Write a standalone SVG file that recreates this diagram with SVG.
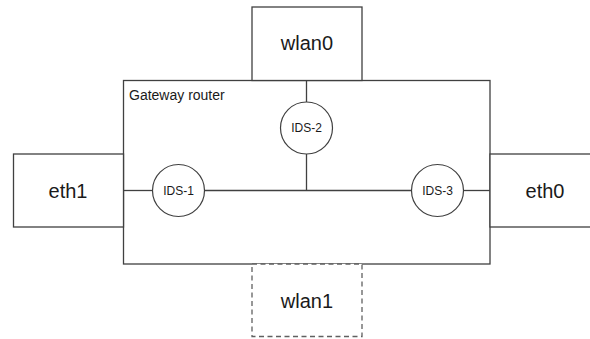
<svg xmlns="http://www.w3.org/2000/svg" width="590" height="339" viewBox="0 0 590 339">
  <style>
    .box { fill: #ffffff; stroke: #404040; stroke-width: 1.3; }
    .dashed { stroke-dasharray: 5 3.5; stroke: #606060; }
    .ids { fill: #ffffff; stroke: #404040; stroke-width: 1.2; }
    .conn { stroke: #404040; stroke-width: 1.3; fill: none; }
    .big { font-family: "Liberation Sans", Arial, sans-serif; font-size: 20px; fill: #1a1a1a; text-anchor: middle; }
    .small { font-family: "Liberation Sans", Arial, sans-serif; font-size: 12px; fill: #1a1a1a; text-anchor: middle; }
    .label { font-family: "Liberation Sans", Arial, sans-serif; font-size: 14px; fill: #1a1a1a; }
  </style>
  <rect width="590" height="339" fill="#ffffff"/>
  <g id="router">
    <rect class="box" x="123.5" y="80.5" width="366.5" height="183.5"/>
    <text class="label" x="129" y="100">Gateway router</text>
  </g>
  <g id="wlan0">
    <rect class="box" x="252" y="7" width="110" height="73.5"/>
    <text class="big" x="307" y="50">wlan0</text>
  </g>
  <g id="eth1">
    <rect class="box" x="13.5" y="154" width="110" height="73"/>
    <text class="big" x="68" y="198">eth1</text>
  </g>
  <g id="eth0">
    <rect class="box" x="490" y="154" width="110" height="73"/>
    <text class="big" x="545" y="198">eth0</text>
  </g>
  <g id="wlan1">
    <rect class="box dashed" x="252" y="264" width="110" height="72.5"/>
    <text class="big" x="307" y="308">wlan1</text>
  </g>
  <g id="connectors">
    <line class="conn" x1="123.5" y1="190.5" x2="152.5" y2="190.5"/>
    <line class="conn" x1="204.5" y1="190.5" x2="411.5" y2="190.5"/>
    <line class="conn" x1="463.5" y1="190.5" x2="490" y2="190.5"/>
    <line class="conn" x1="306.5" y1="80.5" x2="306.5" y2="102"/>
    <line class="conn" x1="306.5" y1="154" x2="306.5" y2="190.5"/>
  </g>
  <g id="ids1">
    <circle class="ids" cx="178.5" cy="190.5" r="26"/>
    <text class="small" x="178.5" y="194.5">IDS-1</text>
  </g>
  <g id="ids2">
    <circle class="ids" cx="306.5" cy="128" r="26"/>
    <text class="small" x="306.5" y="132.3">IDS-2</text>
  </g>
  <g id="ids3">
    <circle class="ids" cx="437.5" cy="190.5" r="26"/>
    <text class="small" x="437.5" y="194.5">IDS-3</text>
  </g>
</svg>
